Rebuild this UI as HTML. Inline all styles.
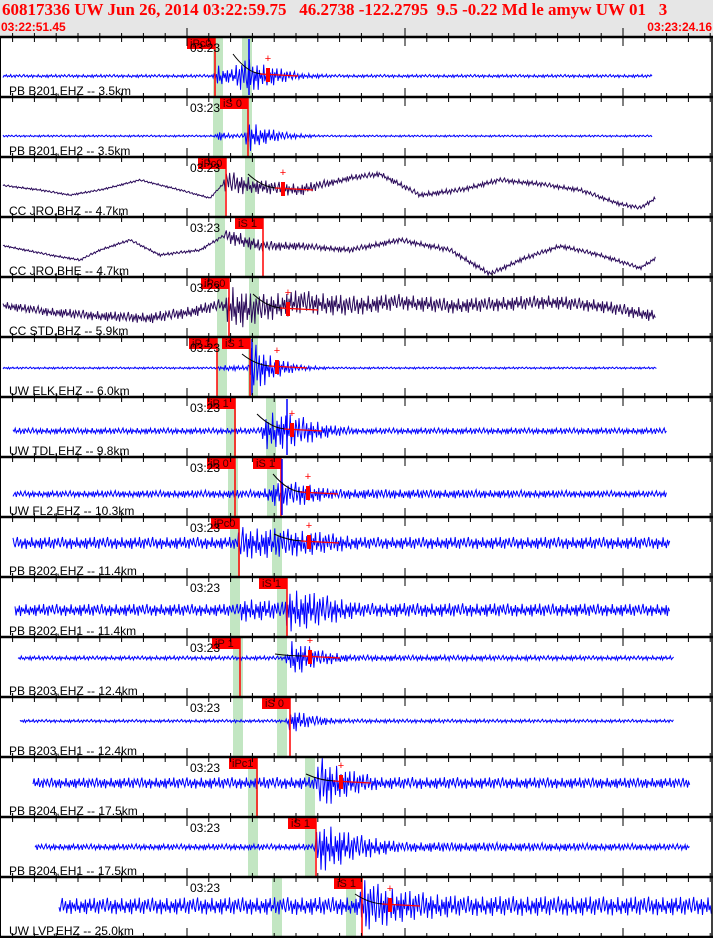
<!DOCTYPE html>
<html><head><meta charset="utf-8">
<style>
html,body{margin:0;padding:0;background:#fff;}
#wrap{position:relative;width:713px;height:938px;overflow:hidden;}
svg{position:absolute;left:0;top:0;}
text{font-family:"Liberation Sans",sans-serif;}
</style></head>
<body>
<div id="wrap">
<svg id="chart" width="713" height="938">
<rect x="0" y="0" width="713" height="37" fill="#e6e6e6"/>
<text x="2" y="15" fill="#f00" font-weight="bold" font-size="17" style="font-family:'Liberation Serif',serif" xml:space="preserve">60817336 UW Jun 26, 2014 03:22:59.75   46.2738 -122.2795  9.5 -0.22 Md le amyw UW 01   3</text>
<text x="1" y="31" fill="#f00" font-weight="bold" font-size="12">03:22:51.45</text>
<text x="712" y="31" fill="#f00" font-weight="bold" font-size="12" text-anchor="end">03:23:24.16</text>
<g id="panels"></g>
</svg>
</div>
<script>
const stations=["PB B201,EHZ -- 3.5km","PB B201,EH2 -- 3.5km","CC JRO,BHZ -- 4.7km","CC JRO,BHE -- 4.7km","CC STD,BHZ -- 5.9km","UW ELK,EHZ -- 6.0km","UW TDL,EHZ -- 9.8km","UW FL2,EHZ -- 10.3km","PB B202,EHZ -- 11.4km","PB B202,EH1 -- 11.4km","PB B203,EHZ -- 12.4km","PB B203,EH1 -- 12.4km","PB B204,EHZ -- 17.5km","PB B204,EH1 -- 17.5km","UW LVP,EHZ -- 25.0km"];
const traceColors=["#0000ff","#0000ff","#2a0a5a","#2a0a5a","#2a0a5a","#0000ff","#0000ff","#0000ff","#0000ff","#0000ff","#0000ff","#0000ff","#0000ff","#0000ff","#0000ff"];
const traceStart=[3,3,3,3,3,3,13,13,13,15,18,20,33,35,59];
const traceEnd=[653,653,656,656,656,657,667,667,670,670,674,674,690,690,712];
// envelope [x, amplitude] per trace
const envelopes=[
 [[3,1.5],[213,1.5],[216,12],[230,6],[245,18],[270,10],[300,3],[330,1.5],[653,1.5]],
 [[3,1],[214,1],[218,5],[230,2],[244,2],[248,16],[265,8],[290,3],[320,1],[653,1]],
 [[3,1],[222,1],[226,12],[260,7],[300,6],[340,3],[656,2]],
 [[3,1],[222,1.5],[230,8],[270,5],[320,3],[656,2]],
 [[3,4],[225,6],[229,22],[260,14],[300,12],[400,8],[656,6]],
 [[3,1],[218,1],[222,3],[248,2],[252,26],[275,10],[300,3],[330,1],[657,1]],
 [[13,3],[260,3],[268,20],[300,15],[330,6],[360,3],[667,3]],
 [[13,3],[262,4],[275,12],[300,12],[330,5],[667,3]],
 [[13,6],[236,6],[240,16],[290,14],[330,10],[360,6],[670,6]],
 [[15,6],[238,6],[242,12],[284,8],[288,22],[330,14],[360,7],[670,6]],
 [[18,2],[285,2],[292,18],[320,8],[350,3],[674,2]],
 [[20,1.5],[286,1.5],[290,12],[310,6],[340,2],[674,1.5]],
 [[33,5],[314,6],[320,26],[345,14],[380,6],[690,5]],
 [[35,3],[314,3],[319,26],[350,14],[400,5],[690,3]],
 [[59,8],[358,9],[364,26],[400,16],[460,10],[712,9]]
];
// slow baseline offsets [x, dy]
const baselines=[
 [[0,0]],[[0,0]],
 [[0,-5],[40,0],[70,5],[100,0],[140,-10],[180,0],[210,8],[225,-8],[260,-3],[300,0],[350,-12],[380,-16],[420,5],[460,0],[500,-10],[540,-6],[580,0],[620,14],[640,18],[656,8]],
 [[0,-5],[50,5],[80,10],[100,0],[130,-10],[160,5],[200,0],[225,-15],[260,-4],[300,-4],[350,0],[400,-10],[450,0],[490,24],[520,10],[560,-4],[600,5],[640,18],[656,8]],
 [[0,-5],[50,2],[100,6],[150,8],[190,2],[220,-5],[250,0],[300,-8],[350,-4],[400,-8],[450,-4],[500,-6],[550,-8],[600,-4],[656,6]],
 [[0,0]],[[0,0]],[[0,0]],[[0,0]],[[0,0]],[[0,0]],[[0,0]],[[0,0]],[[0,0]],[[0,0]]
];
const centerOffset=[39,39,33,33,33,31,34,37,26,33,21,24,26,30,29];
const pickLabels=[["iPc0"],["iS 0"],["iPc0"],["iS 1"],["iPc0"],["iP 1","iS 1"],["iP 1"],["iP 0","iS 1"],["iPc0"],["iS 1"],["iP 1"],["iS 0"],["iPc1"],["iS 1"],["iS 1"]];
const pickX=[[215],[248],[226],[263],[229],[217,250],[235],[235,281],[239],[287],[240],[290],[257],[316],[362]];
const bandP=[213,213,215,215,217,217,226,228,230,230,233,233,248,248,272];
const bandS=[242,242,245,245,249,248,266,267,272,277,277,277,305,305,346];
const blueLineX=[249,null,null,null,null,252,287,282,null,null,null,null,null,null,null];
const magX=[268,null,283,null,288,277,292,308,309,null,310,null,341,null,390];

const pat=[1,-0.4,0.2,-0.9,0.6,-0.1,0.3,-1,0.8,0.1,-0.5,0.95,-0.7,-0.2,0.4,-0.85,0.15,0.7,-0.3,-1,0.55,0.05,-0.6,0.9,-0.25,0.35,-0.75,1,-0.45,0.2,-0.15,0.65,-0.95,0.45,-0.05,0.85,-0.55,0.25,-0.35,0.75,-0.8];
const NS="http://www.w3.org/2000/svg";
const root=document.getElementById('panels');
function mk(tag,attrs,parent){const e=document.createElementNS(NS,tag);for(const k in attrs)e.setAttribute(k,attrs[k]);(parent||root).appendChild(e);return e;}
function interp(arr,x){if(arr.length===1)return arr[0][1];if(x<=arr[0][0])return arr[0][1];for(let i=1;i<arr.length;i++){if(x<=arr[i][0]){const a=arr[i-1],b=arr[i];return a[1]+(b[1]-a[1])*(x-a[0])/(b[0]-a[0]);}}return arr[arr.length-1][1];}
const panelH=60, top0=37;
function panelY(i){return top0+i*panelH;}

for(let i=0;i<stations.length;i++){
 const top=panelY(i);
 const g=mk('g',{});
 
 
 const b1=mk('rect',{x:bandP[i],y:top,width:10,height:panelH,fill:'#c2e6c2'},g);
 
 
 const b2=mk('rect',{x:bandS[i],y:top,width:10,height:panelH,fill:'#c2e6c2'},g);
 
 
 const cy=top+centerOffset[i];
 let d='';let k=i*7;
 for(let x=traceStart[i];x<=traceEnd[i];x+=1.1){
  const a=interp(envelopes[i],x);const bl=interp(baselines[i],x);
  const y=cy+bl+a*pat[k%pat.length];k++;
  d+=(d?'L':'M')+x.toFixed(1)+' '+y.toFixed(1);
 }
 const w=mk('path',{d:d,fill:'none',stroke:traceColors[i],'stroke-width':1},g);
 
 
 for(let j=0;j<pickLabels[i].length;j++){
  const px=pickX[i][j];
  const r=mk('rect',{x:px-28,y:top+1,width:28,height:11,fill:'#f00'},g);
  
  
  const t=mk('text',{x:px-25,y:top+10,'font-size':11,fill:'#400'},g);
  t.textContent=pickLabels[i][j];
  
  
  const l=mk('line',{x1:px,y1:top+1,x2:px,y2:top+panelH-1,stroke:'#f00','stroke-width':1.5},g);
  
  
 }
 if(blueLineX[i]!==null){
  const l=mk('line',{x1:blueLineX[i],y1:top+2,x2:blueLineX[i],y2:top+panelH-2,stroke:'#00f','stroke-width':1.5},g);
  
  
 }
 if(magX[i]!==null){
  const mx=magX[i];
  const c=mk('path',{d:`M${mx-35} ${top+17} Q${mx-20} ${cy-2} ${mx-5} ${cy-2}`,fill:'none',stroke:'#000','stroke-width':1},g);
  
  
  const rl=mk('line',{x1:mx-8,y1:cy-2,x2:mx+30,y2:cy,stroke:'#f00','stroke-width':1.2},g);
  
  
  const bar=mk('rect',{x:mx-2,y:cy-8,width:4,height:14,fill:'#f00'},g);
  
  
  const p=mk('text',{x:mx,y:cy-14,'font-size':11,fill:'#f00','text-anchor':'middle'},g);
  p.textContent='+';
  
  
 }
 const tl=mk('text',{x:190,y:top+15,'font-size':12,fill:'#000'},g);
 tl.textContent='03:23';
 
 
 const sl=mk('text',{x:9,y:top+58,'font-size':12,fill:'#000'},g);
 sl.textContent=stations[i];
 
 
}
for(let i=0;i<=stations.length;i++){
 const y=panelY(i);
 const s=mk('line',{x1:0,y1:y,x2:713,y2:y,stroke:'#000','stroke-width':2.5});
 
 
 for(let n=-8;n<=24;n++){
  const x=187+n*21.8; if(x<0||x>713)continue;
  const tall=(n%10===0);
  const t=mk('line',{x1:x,y1:y-(tall?9:4),x2:x,y2:y+(tall?9:5),stroke:'#000','stroke-width':1});
  
  
 }
}
const lb=mk('line',{x1:0.5,y1:37,x2:0.5,y2:938,stroke:'#000','stroke-width':1});


const rb=mk('line',{x1:712,y1:37,x2:712,y2:938,stroke:'#000','stroke-width':1.5});


</script>
</body></html>
